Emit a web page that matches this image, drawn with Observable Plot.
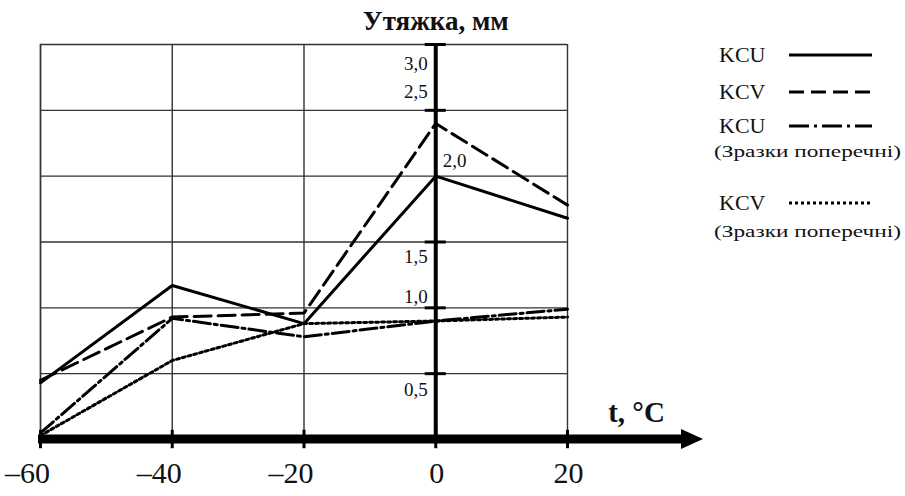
<!DOCTYPE html>
<html>
<head>
<meta charset="utf-8">
<script src="https://cdn.jsdelivr.net/npm/d3@7"></script>
<script src="https://cdn.jsdelivr.net/npm/@observablehq/plot@0.6"></script>
<style>
  html, body { margin: 0; padding: 0; background: white; }
  #wrap { position: relative; width: 905px; height: 496px; }
  #legend { position: absolute; left: 0; top: 0; pointer-events: none; }
</style>
</head>
<body>
<div id="wrap"></div>
<script>
// ---- data ----
const temps = [-60, -40, -20, 0, 20];
const kcu      = [0.43, 1.17, 0.88, 2.00, 1.68];
const kcv      = [0.45, 0.93, 0.96, 2.40, 1.78];
const kcuTrans = [0.05, 0.92, 0.78, 0.90, 0.99];
const kcvTrans = [0.03, 0.60, 0.88, 0.90, 0.93];

const seriesNames = ["KCU", "KCV", "KCU", "KCV"];
const seriesNotes = ["", "", "(Зразки поперечні)", "(Зразки поперечні)"];

const xTicks = [-60, -40, -20, 0, 20];
const xTickLabels = ["\u201360", "\u201340", "\u201320", "0", "20"];
const yGrid = [0.5, 1.0, 1.5, 2.0, 2.5, 3.0];
const yTickMarks = [0.5, 1.0, 1.5, 2.5, 3.0];
const yTickLabels = ["0,5", "1,0", "1,5", "2,0", "2,5", "3,0"];
const yTitle = "Утяжка, мм";
const xTitle = "t, °C";

// ---- styles ----
const FONT = "'Liberation Serif', 'Times New Roman', serif";
const dashes = [null, "17,7", "17,4,3,4", "3,3"];
const legendDashes = [null, "15,7", "20,5,3,5", "3,3"];
const yLabelPlace = [
  {dx: -8, dy: 16, anchor: "end"},
  {dx: -8, dy: -11, anchor: "end"},
  {dx: -8, dy: 15, anchor: "end"},
  {dx: 7, dy: -15, anchor: "start"},
  {dx: -8, dy: -18, anchor: "end"},
  {dx: -8, dy: 19, anchor: "end"}
];

const allSeries = [kcu, kcv, kcuTrans, kcvTrans];
const rows = allSeries.map(vals => temps.map((t, i) => ({t, v: vals[i]})));

const lineMarks = rows.map((r, i) => Plot.line(r, {
  x: "t", y: "v", stroke: "black", strokeWidth: 3,
  strokeDasharray: dashes[i] || undefined, strokeLinejoin: "miter"
}));

const yLabelMarks = yGrid.map((v, i) => Plot.text([v], {
  x: 0, y: d => d, text: () => yTickLabels[i],
  dx: yLabelPlace[i].dx, dy: yLabelPlace[i].dy, textAnchor: yLabelPlace[i].anchor,
  fontSize: 19, fill: "#111"
}));

// x-axis bar with arrowhead
function xAxisArrow(index, scales) {
  const g = d3.create("svg:g");
  const x0 = scales.x(-60), xe = scales.x(20) + 136, y0 = scales.y(0);
  g.append("line").attr("x1", x0 - 2).attr("x2", xe - 18)
    .attr("y1", y0).attr("y2", y0).attr("stroke", "black").attr("stroke-width", 9);
  g.append("path").attr("d", `M${xe},${y0} L${xe - 22},${y0 - 10} L${xe - 22},${y0 + 10} Z`)
    .attr("fill", "black");
  return g.node();
}

const negTicks = xTicks.filter(d => d < 0);
const nonNegTicks = xTicks.filter(d => d >= 0);
const labelOf = d => xTickLabels[xTicks.indexOf(d)];

const plot = Plot.plot({
  width: 905, height: 496,
  marginLeft: 40, marginRight: 338, marginTop: 44, marginBottom: 57,
  x: {domain: [-60, 20], axis: null},
  y: {domain: [0, 3], axis: null},
  style: {fontFamily: FONT, background: "white", overflow: "visible"},
  marks: [
    Plot.gridX(xTicks, {stroke: "#333", strokeOpacity: 1, strokeWidth: 1.4}),
    Plot.gridY(yGrid, {stroke: "#333", strokeOpacity: 1, strokeWidth: 1.4}),
    Plot.ruleX([-60], {stroke: "#333", strokeWidth: 1.4}),
    ...lineMarks,
    Plot.ruleX([0], {y1: 0, y2: 3, stroke: "black", strokeWidth: 4}),
    Plot.ruleY(yTickMarks, {y: d => d, x1: -1.6, x2: 1.6, stroke: "black", strokeWidth: 3}),
    xAxisArrow,
    Plot.ruleX(xTicks, {x: d => d, y1: -0.07, y2: 0.07, stroke: "black", strokeWidth: 3}),
    ...yLabelMarks,
    Plot.text(negTicks, {x: d => d, y: 0, text: labelOf, dx: -13, dy: 34, fontSize: 30, fill: "#111"}),
    Plot.text(nonNegTicks, {x: d => d, y: 0, text: labelOf, dx: 1, dy: 34, fontSize: 30, fill: "#111"}),
    Plot.text([yTitle], {x: 0, y: 3, text: d => d, dy: -23, fontSize: 27, fontWeight: "bold", fill: "#111"}),
    Plot.text([xTitle], {x: 20, y: 0, text: d => d, dx: 69, dy: -27, fontSize: 29, fontWeight: "bold", fill: "#111"})
  ]
});
document.getElementById("wrap").appendChild(plot);

// ---- legend (overlay) ----
const leg = d3.select("#wrap").append("svg").attr("id", "legend")
  .attr("width", 905).attr("height", 496)
  .style("font-family", FONT);
const legRows = [
  {lineY: 55},
  {lineY: 92},
  {lineY: 126, noteY: 157},
  {lineY: 203, noteY: 237}
];
legRows.forEach((r, i) => {
  leg.append("text").attr("x", 719).attr("y", r.lineY + 7)
    .attr("font-size", 22).attr("fill", "#111").text(seriesNames[i]);
  leg.append("line").attr("x1", 789).attr("x2", 872)
    .attr("y1", r.lineY).attr("y2", r.lineY)
    .attr("stroke", "black").attr("stroke-width", 3)
    .attr("stroke-dasharray", legendDashes[i]);
  if (seriesNotes[i]) {
    leg.append("text").attr("x", 714).attr("y", r.noteY)
      .attr("font-size", 17.5).attr("fill", "#111")
      .attr("textLength", 187).attr("lengthAdjust", "spacingAndGlyphs")
      .text(seriesNotes[i]);
  }
});
</script>
</body>
</html>
